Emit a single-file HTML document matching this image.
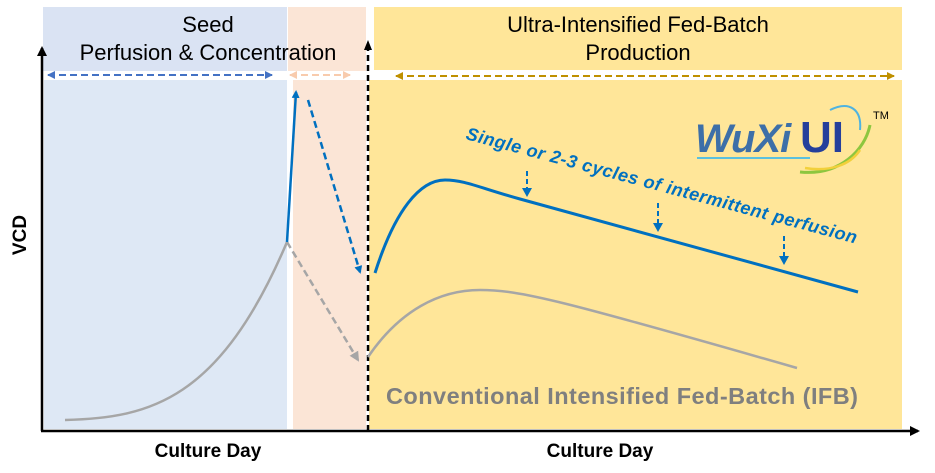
<!DOCTYPE html>
<html><head><meta charset="utf-8"><style>
html,body{margin:0;padding:0;background:#fff;}
svg{display:block;font-family:"Liberation Sans",sans-serif;}
</style></head><body>
<svg width="935" height="473" viewBox="0 0 935 473" xmlns="http://www.w3.org/2000/svg">
<defs>
<marker id="ab" markerWidth="8" markerHeight="8" refX="6" refY="4" orient="auto" markerUnits="userSpaceOnUse"><path d="M0,0 L8,4 L0,8 z" fill="#0070c0"/></marker>
<marker id="ag" markerWidth="10" markerHeight="10" refX="8" refY="5" orient="auto" markerUnits="userSpaceOnUse"><path d="M0,0 L10,5 L0,10 z" fill="#a6a6a6"/></marker>
<marker id="ak" markerWidth="10" markerHeight="10" refX="8" refY="5" orient="auto" markerUnits="userSpaceOnUse"><path d="M0,0 L10,5 L0,10 z" fill="#000"/></marker>
<marker id="a1" markerWidth="8" markerHeight="8" refX="7" refY="4" orient="auto-start-reverse" markerUnits="userSpaceOnUse"><path d="M0,0 L8,4 L0,8 z" fill="#4472c4"/></marker>
<marker id="a2" markerWidth="8" markerHeight="8" refX="7" refY="4" orient="auto-start-reverse" markerUnits="userSpaceOnUse"><path d="M0,0 L8,4 L0,8 z" fill="#f8cbad"/></marker>
<marker id="a3" markerWidth="8" markerHeight="8" refX="7" refY="4" orient="auto-start-reverse" markerUnits="userSpaceOnUse"><path d="M0,0 L8,4 L0,8 z" fill="#bf9000"/></marker>
</defs>
<rect x="43" y="7" width="244" height="64" fill="#dae3f3"/>
<rect x="44" y="80" width="243" height="349" fill="#dee8f5"/>
<rect x="288" y="7" width="78" height="64" fill="#fbe5d6"/>
<rect x="293" y="80" width="73" height="349" fill="#fbe5d6"/>
<rect x="374" y="7" width="528" height="63" fill="#ffe699"/>
<rect x="369" y="80" width="533" height="349" fill="#ffe699"/>
<text x="208" y="32" font-size="22" text-anchor="middle" fill="#000">Seed</text>
<text x="208" y="60" font-size="22" text-anchor="middle" fill="#000">Perfusion &amp; Concentration</text>
<text x="638" y="32" font-size="22" text-anchor="middle" fill="#000">Ultra-Intensified Fed-Batch</text>
<text x="638" y="60" font-size="22" text-anchor="middle" fill="#000">Production</text>
<line x1="48" y1="75" x2="272" y2="75" stroke="#4472c4" stroke-width="2" stroke-dasharray="7,4" marker-start="url(#a1)" marker-end="url(#a1)"/>
<line x1="290" y1="75" x2="350" y2="75" stroke="#f8cbad" stroke-width="2" stroke-dasharray="7,4" marker-start="url(#a2)" marker-end="url(#a2)"/>
<line x1="396" y1="76" x2="894" y2="76" stroke="#bf9000" stroke-width="2" stroke-dasharray="7,4" marker-start="url(#a3)" marker-end="url(#a3)"/>
<line x1="42" y1="431" x2="42" y2="48" stroke="#000" stroke-width="2.5" marker-end="url(#ak)"/>
<line x1="41" y1="431" x2="918" y2="431" stroke="#000" stroke-width="2.5" marker-end="url(#ak)"/>
<line x1="368" y1="431" x2="368" y2="48" stroke="#000" stroke-width="2.5" stroke-dasharray="6,4"/>
<path d="M364,50 L368,40 L372,50 z" fill="#000"/>
<text x="26" y="235" font-size="19" font-weight="bold" text-anchor="middle" transform="rotate(-90 26 235)">VCD</text>
<text x="208" y="457" font-size="19" font-weight="bold" text-anchor="middle">Culture Day</text>
<text x="600" y="457" font-size="19" font-weight="bold" text-anchor="middle">Culture Day</text>
<path d="M65,420 C150,418 220,400 287,242" fill="none" stroke="#a6a6a6" stroke-width="2.5"/>
<line x1="287" y1="242" x2="358" y2="360" stroke="#a6a6a6" stroke-width="2.5" stroke-dasharray="7,4" marker-end="url(#ag)"/>
<line x1="287" y1="242" x2="296" y2="92" stroke="#0070c0" stroke-width="2.5" marker-end="url(#ab)"/>
<line x1="308" y1="100" x2="360" y2="272" stroke="#0070c0" stroke-width="2.5" stroke-dasharray="7,4" marker-end="url(#ab)"/>
<path d="M375,273 C395,210 420,180 445,180 C465,180 480,188 520,199 L858,292" fill="none" stroke="#0070c0" stroke-width="3"/>
<path d="M368,357 C400,310 440,290 480,290 C520,290 560,300 797,368" fill="none" stroke="#a6a6a6" stroke-width="2.5"/>
<g stroke="#0070c0" stroke-width="2" stroke-dasharray="5,3">
<line x1="527" y1="171" x2="527" y2="193"/>
<line x1="658" y1="203" x2="658" y2="228"/>
<line x1="784" y1="236" x2="784" y2="260"/>
</g>
<g fill="#0070c0">
<path d="M522,188 L527,197 L532,188 z"/>
<path d="M653,223 L658,232 L663,223 z"/>
<path d="M779,256 L784,265 L789,256 z"/>
</g>
<text x="465" y="139" font-size="18" font-weight="bold" font-style="italic" fill="#0070c0" transform="rotate(15 465 139)" textLength="404">Single or 2-3 cycles of intermittent perfusion</text>
<text x="386" y="404" font-size="23.5" font-weight="bold" fill="#7f7f7f" textLength="472">Conventional Intensified Fed-Batch (IFB)</text>
<text x="695" y="152" font-size="40" font-weight="bold" fill="#3d6fa8" font-style="italic" letter-spacing="-1">WuXi</text>
<text x="800" y="152" font-size="44" font-weight="bold" fill="#253f9b">UI</text>
<path d="M697,158 L810,158" stroke="#5bc0de" stroke-width="2"/>
<path d="M800,172 C840,176 865,150 870,125" fill="none" stroke="#8dc63f" stroke-width="3"/>
<path d="M805,168 C830,172 850,165 860,150" fill="none" stroke="#f2d03b" stroke-width="2.5"/>
<path d="M830,110 C850,100 862,110 860,130" fill="none" stroke="#4fb3e0" stroke-width="2"/>
<text x="873" y="119" font-size="11" fill="#000">TM</text>
</svg>
</body></html>
